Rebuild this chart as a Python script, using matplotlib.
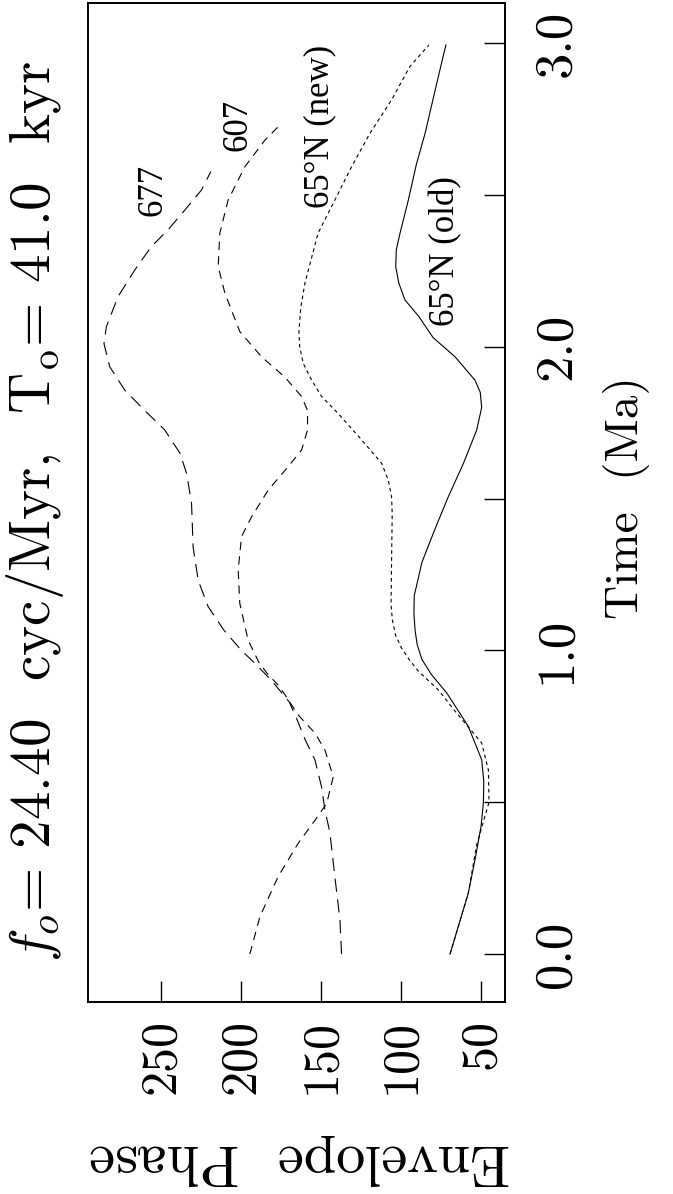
import matplotlib
matplotlib.use("Agg")
import matplotlib.pyplot as plt
from matplotlib.ticker import FixedLocator

plt.rcParams['font.family'] = ['cmr10', 'DejaVu Serif']
plt.rcParams['mathtext.fontset'] = 'cm'
plt.rcParams['axes.unicode_minus'] = False
plt.rcParams['axes.formatter.use_mathtext'] = True
plt.rcParams['lines.scale_dashes'] = False

# ---- data (time in Ma, envelope phase in degrees) ----
t_old = [0.0, 0.2, 0.31, 0.42, 0.5, 0.57, 0.64, 0.75, 0.86, 0.92, 0.97, 1.02, 1.067,
         1.12, 1.18, 1.29, 1.40, 1.506, 1.616, 1.726, 1.80, 1.85, 1.89, 1.967, 2.03,
         2.1, 2.154, 2.21, 2.264, 2.32, 2.374, 2.483, 2.6, 2.703, 2.868, 2.994]
p_old = [69.4, 58, 53.8, 50, 48.5, 48.3, 49.6, 58, 71.5, 81, 87, 90, 91.3,
         92, 91.8, 87, 78.8, 70.5, 61, 52.7, 49.6, 50.5, 53.8, 66.3, 80,
         89, 97.6, 101.5, 103.4, 103, 100.7, 95.5, 90.5, 85, 77.7, 72]

t_new = [0.0, 0.2, 0.36, 0.5, 0.606, 0.695, 0.80, 0.87, 0.93, 0.97, 1.01, 1.05,
         1.10, 1.15, 1.29, 1.45, 1.506, 1.56, 1.616, 1.693, 1.78, 1.836, 1.89,
         1.945, 2.0, 2.05, 2.13, 2.21, 2.374, 2.483, 2.593, 2.703, 2.813, 2.923, 2.994]
p_new = [69.4, 58, 52.7, 45, 45.4, 49.6, 66.3, 76.7, 89, 95, 100, 103.5,
         105.5, 106.3, 106, 105.6, 106, 108, 112.2, 124.7, 139.4, 149.8, 156,
         161.3, 163.5, 164, 162.8, 160.2, 152, 141.5, 131, 119.5, 106, 94.5, 82.6]

t_607 = [0.0, 0.123, 0.255, 0.365, 0.44, 0.496, 0.584, 0.672, 0.728, 0.787, 0.88,
         0.925, 0.96, 1.034, 1.155, 1.265, 1.375, 1.44, 1.528, 1.605, 1.66, 1.726,
         1.79, 1.836, 1.90, 1.967, 2.05, 2.176, 2.264, 2.374, 2.483, 2.593, 2.68, 2.736]
p_607 = [194.7, 188.4, 177, 164.4, 154, 146.6, 142.5, 147.7, 154, 164.4, 176,
         184, 189, 195.8, 201, 202, 199.9, 193.6, 183.2, 170.7, 162.3, 158.6,
         158.6, 162.3, 172.8, 187.4, 201, 210.3, 214.5, 213.5, 208.3, 197.8, 185.3, 174.8]

t_677 = [0.0, 0.112, 0.255, 0.4, 0.474, 0.55, 0.64, 0.705, 0.77, 0.83, 0.9, 0.96,
         1.0, 1.067, 1.144, 1.23, 1.34, 1.485, 1.583, 1.65, 1.726, 1.79, 1.857,
         1.934, 2.01, 2.066, 2.165, 2.253, 2.33, 2.385, 2.45, 2.516, 2.577]
p_677 = [137.3, 138.3, 141.5, 144.6, 147.7, 149.8, 154, 160, 165, 170, 181, 192,
         200, 211, 220.8, 227, 230.2, 231.2, 234.3, 238.5, 248, 260.5, 273,
         282.4, 286, 284.5, 277.2, 266.7, 256.3, 245.9, 235.4, 225, 219.1]

phase_ticks = [250, 200, 150, 100, 50]
phase_labels = ["250", "200", "150", "100", "50"]
time_major = [0.0, 1.0, 2.0, 3.0]
time_labels = ["0.0", "1.0", "2.0", "3.0"]
time_minor = [0.5, 1.5, 2.5]

W, H = 673, 1194
fig = plt.figure(figsize=(W / 100, H / 100), dpi=100)
ax = fig.add_axes([88 / W, 1 - 1002 / H, (505 - 88) / W, (1002 - 3) / H])

lw = 0.8
ax.plot(p_old, t_old, color='black', lw=lw, ls='-')
ax.plot(p_new, t_new, color='black', lw=lw, dashes=(2.6, 2.4))
ax.plot(p_607, t_607, color='black', lw=lw, dashes=(6, 4.5))
ax.plot(p_677, t_677, color='black', lw=lw, dashes=(9.5, 5.5))

ax.set_xlim(296, 35)
ax.set_ylim(-0.158, 3.132)

for s in ax.spines.values():
    s.set_linewidth(1.4)

ax.xaxis.set_ticks_position('bottom')
ax.yaxis.set_ticks_position('right')
ax.set_xticks(phase_ticks, labels=phase_labels)
ax.set_yticks(time_major, labels=time_labels)
ax.yaxis.set_minor_locator(FixedLocator(time_minor))
ax.tick_params(which='both', direction='in', length=15, width=1.0)
ax.tick_params(axis='x', labelrotation=90, labelsize=36, pad=12)
ax.tick_params(axis='y', labelrotation=90, labelsize=38, pad=20)
for lbl in ax.get_yticklabels():
    lbl.set_va('center')

lab_font = dict(family=['Liberation Serif', 'DejaVu Serif'], fontsize=25,
                rotation=90, ha='center', va='center')
ax.text(255.3, 2.516, "677", **lab_font)
ax.text(202, 2.73, "607", **lab_font)
ax.text(150.8, 2.725, "65°N (new)", **lab_font)
ax.text(72.1, 2.315, "65°N (old)", **lab_font)

fig.text(35 / W, 1 - 512 / H,
         r"$f_o$= 24.40  cyc/Myr,  T$_{\rm o}$= 41.0  kyr",
         rotation=90, ha='center', va='center', fontsize=41)
fig.text(626 / W, 1 - 498 / H, "Time  (Ma)", rotation=90,
         ha='center', va='center', fontsize=34)
fig.text(300 / W, 1 - 1160 / H, "Envelope  Phase", rotation=180,
         ha='center', va='center', fontsize=42)

fig.savefig("out.png", dpi=100)
